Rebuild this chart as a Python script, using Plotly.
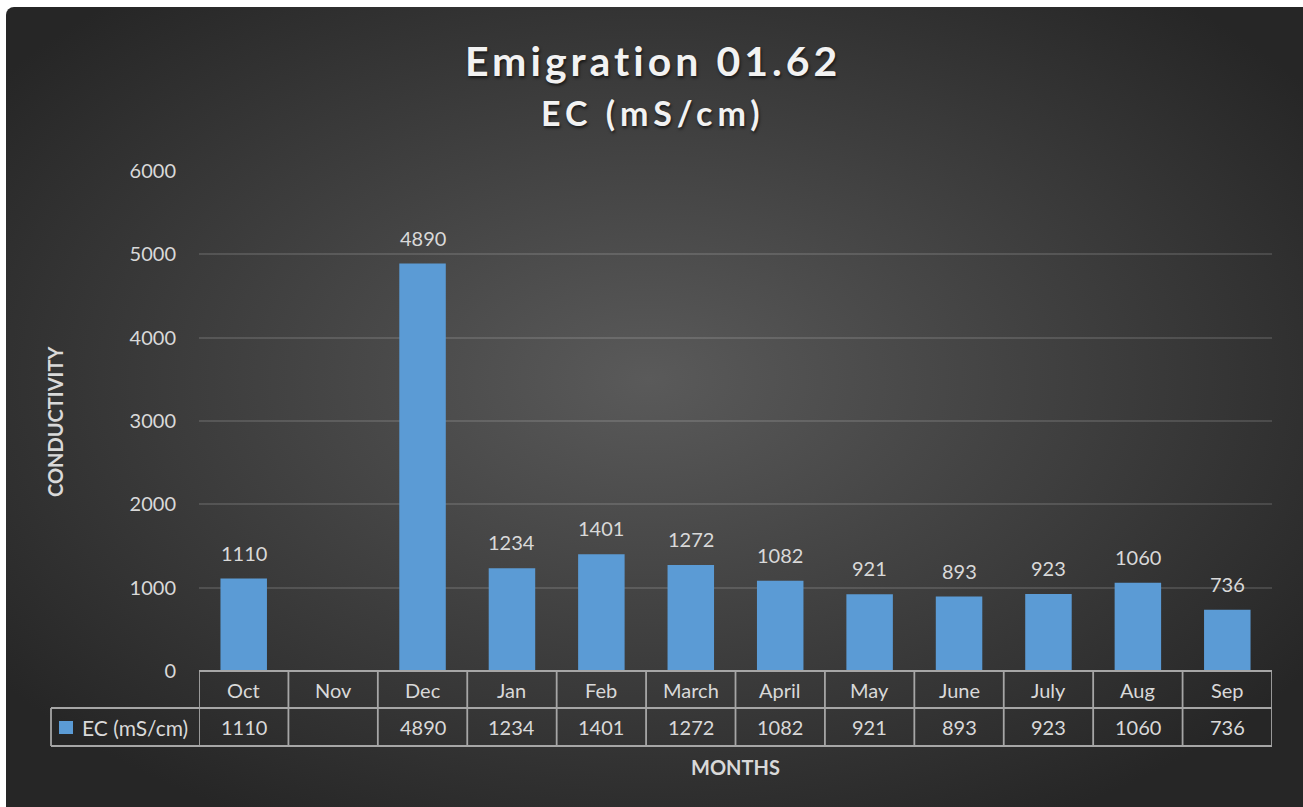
import base64
import plotly.graph_objects as go

months = ["Oct", "Nov", "Dec", "Jan", "Feb", "March", "April", "May", "June", "July", "Aug", "Sep"]
ec_values = [1110, None, 4890, 1234, 1401, 1272, 1082, 921, 893, 923, 1060, 736]
series_name = "EC (mS/cm)"
title_line1 = "Emigration 01.62"
title_line2 = "EC (mS/cm)"
y_title = "CONDUCTIVITY"
x_title = "MONTHS"
y_ticks = [0, 1000, 2000, 3000, 4000, 5000, 6000]

W, H = 1303, 807
L, R, T, B = 199, 31, 171, 136
PW, PH = W - L - R, H - T - B

def px(xp):
    return (xp - L) / PW

def py(yp):
    return (H - B - yp) / PH

FONT = "Lato"
TXT = "#d9d9d9"
LINE = "#a6a6a6"
BAR = "#5b9bd5"
SZ = 20

BGW, BGH = 1310, 810
svg = f'''<svg xmlns="http://www.w3.org/2000/svg" width="{BGW}" height="{BGH}" viewBox="0 0 {BGW} {BGH}">
<defs><radialGradient id="g" cx="0.49" cy="0.46" r="0.62">
<stop offset="0" stop-color="#5a5a5a"/><stop offset="1" stop-color="#262626"/></radialGradient></defs>
<rect x="0" y="0" width="{BGW}" height="{BGH}" rx="8" ry="8" fill="url(#g)"/></svg>'''
bg_src = "data:image/svg+xml;base64," + base64.b64encode(svg.encode()).decode()

fig = go.Figure()
fig.add_trace(go.Bar(
    x=list(range(len(months))), y=ec_values, width=0.52,
    marker=dict(color=BAR, line=dict(width=0)), name=series_name, showlegend=False,
))

def a(**kw):
    d = dict(showarrow=False, xanchor="center", yanchor="middle")
    d.update(kw)
    return d

ann = []
for i, v in enumerate(ec_values):
    if v is not None:
        ann.append(a(x=i, y=v, xref="x", yref="y", text=str(v), yanchor="bottom", yshift=12,
                     font=dict(family=FONT, size=SZ, color=TXT)))
    ann.append(a(x=i, y=py(690), xref="x", yref="paper", text=months[i],
                 font=dict(family=FONT, size=SZ, color=TXT)))
    ann.append(a(x=i, y=py(727), xref="x", yref="paper", text="" if v is None else str(v),
                 font=dict(family=FONT, size=SZ, color=TXT)))

ann.append(a(x=px(80), y=py(727), xref="paper", yref="paper", text=series_name, xanchor="left",
             font=dict(family=FONT, size=SZ + 1, color=TXT)))
ann.append(a(x=0.5, y=py(767), xref="paper", yref="paper", text=f"<b>{x_title}</b>",
             font=dict(family=FONT, size=20, color=TXT)))
ann.append(a(x=px(55), y=py(421), xref="paper", yref="paper", text=f"<b>{y_title}</b>", textangle=-90,
             font=dict(family=FONT, size=20, color=TXT)))
shadow = "1px 2px 3px rgba(0,0,0,0.6)"
ann.append(a(x=px(653), y=py(60), xref="paper", yref="paper",
             text=f"<span style='letter-spacing:4px'><b>{title_line1}</b></span>",
             font=dict(family=FONT, size=41, color="#f2f2f2", shadow=shadow)))
ann.append(a(x=px(653), y=py(113), xref="paper", yref="paper",
             text=f"<span style='letter-spacing:5px'><b>{title_line2}</b></span>",
             font=dict(family=FONT, size=34, color="#f2f2f2", shadow=shadow)))

shapes = []
n = len(months)
lw = 1.8
shapes.append(dict(type="line", xref="x", yref="paper", x0=-0.5, x1=n - 0.5, y0=0, y1=0,
                   line=dict(color=LINE, width=lw)))
for yy in (708, 746):
    shapes.append(dict(type="line", xref="paper", yref="paper", x0=px(51), x1=1, y0=py(yy), y1=py(yy),
                       line=dict(color=LINE, width=lw)))
for i in range(n + 1):
    shapes.append(dict(type="line", xref="x", yref="paper", x0=i - 0.5, x1=i - 0.5, y0=0, y1=py(746),
                       line=dict(color=LINE, width=lw)))
shapes.append(dict(type="line", xref="paper", yref="paper", x0=px(51), x1=px(51), y0=py(708), y1=py(746),
                   line=dict(color=LINE, width=lw)))
shapes.append(dict(type="rect", xref="paper", yref="paper", x0=px(59), x1=px(73), y0=py(734), y1=py(721),
                   fillcolor=BAR, line=dict(width=0)))

fig.update_layout(
    width=W, height=H,
    margin=dict(l=L, r=R, t=T, b=B, autoexpand=False),
    paper_bgcolor="white", plot_bgcolor="rgba(0,0,0,0)",
    images=[dict(source=bg_src, xref="paper", yref="paper", x=px(6), y=py(7),
                 sizex=BGW / PW, sizey=BGH / PH, xanchor="left", yanchor="top",
                 sizing="stretch", layer="below")],
    xaxis=dict(range=[-0.5, n - 0.5], showticklabels=False, showgrid=False, zeroline=False,
               showline=False, ticks=""),
    yaxis=dict(range=[0, 6000], tickvals=y_ticks, showgrid=True, gridcolor="rgba(255,255,255,0.13)",
               gridwidth=1.5, zeroline=False, showline=False, ticks="",
               tickfont=dict(family=FONT, size=SZ, color=TXT), ticklabelstandoff=22),
    annotations=ann, shapes=shapes, showlegend=False,
)

fig.write_html("out.html", config={"displayModeBar": False},
               post_script="document.body.style.margin='0';document.body.style.overflow='hidden';")
